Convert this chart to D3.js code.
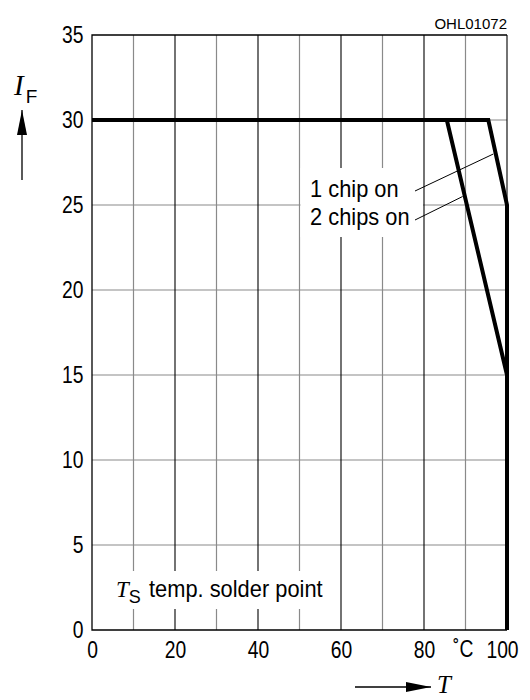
<!DOCTYPE html>
<html>
<head>
<meta charset="utf-8">
<script src="https://cdn.jsdelivr.net/npm/d3@7"></script>
<style>
  body { margin: 0; background: #fff; }
  .tick text, .unit { font-family: "Liberation Sans", Arial, sans-serif; font-size: 23px; fill: #000; }
  .note { font-family: "Liberation Sans", Arial, sans-serif; font-size: 23px; fill: #000; }
  .sym { font-family: "Liberation Serif", "Times New Roman", serif; font-style: italic; fill: #000; }
</style>
</head>
<body>
<div id="chart"></div>
<script>
// data
const tempTicks = [0, 20, 40, 60, 80, 100];
const tempGrid = [10, 20, 30, 40, 50, 60, 70, 80, 90, 100];
const currentTicks = [0, 5, 10, 15, 20, 25, 30, 35];
const oneChipT = [0, 95.5, 100, 100];
const oneChipI = [30, 30, 25, 0];
const twoChipT = [0, 85.5, 100, 100];
const twoChipI = [30, 30, 15, 0];

const width = 530, height = 700;
const narrow = 0.84; // the original labels use a condensed face
const x = d3.scaleLinear().domain([0, 100]).range([92, 507]);
const y = d3.scaleLinear().domain([0, 35]).range([630, 35]);

const svg = d3.select("#chart")
  .append("svg")
  .attr("width", width)
  .attr("height", height);

// grid: horizontal lines grey, verticals black every 20
svg.append("g")
  .selectAll("line")
  .data(currentTicks.filter(d => d > 0 && d < 35))
  .join("line")
    .attr("x1", x(0)).attr("x2", x(100))
    .attr("y1", d => y(d)).attr("y2", d => y(d))
    .attr("stroke", "#8a8a8a")
    .attr("stroke-width", 1.2);

svg.append("g")
  .selectAll("line")
  .data(tempGrid)
  .join("line")
    .attr("x1", d => x(d)).attr("x2", d => x(d))
    .attr("y1", y(0)).attr("y2", y(35))
    .attr("stroke", d => d % 20 === 0 ? "#000" : "#8a8a8a")
    .attr("stroke-width", d => d % 20 === 0 ? 1.1 : 1.2);

// white boxes behind the notes
svg.append("rect")
  .attr("x", x(50) + 1).attr("y", 168)
  .attr("width", x(80) - x(50) - 2).attr("height", 69)
  .attr("fill", "#fff");
svg.append("rect")
  .attr("x", x(0) + 10).attr("y", 571)
  .attr("width", x(60) - x(0) - 12).attr("height", 38)
  .attr("fill", "#fff");

// frame: top, left and bottom
svg.append("path")
  .attr("d", `M${x(100)},${y(35)}H${x(0)}V${y(0)}H${x(100)}`)
  .attr("fill", "none")
  .attr("stroke", "#000")
  .attr("stroke-width", 1.3);

// axes, labels only
svg.append("g")
  .attr("transform", `translate(0,${y(0)})`)
  .call(d3.axisBottom(x).tickValues(tempTicks).tickSize(0).tickPadding(5))
  .call(g => g.select(".domain").remove())
  .call(g => g.selectAll(".tick text")
    .attr("dy", "1em")
    .attr("transform", d => `translate(${d === 100 ? -5 : 0},0) scale(${narrow},1)`));

svg.append("g")
  .attr("transform", `translate(${x(0)},0)`)
  .call(d3.axisLeft(y).tickValues(currentTicks).tickSize(0).tickPadding(9))
  .call(g => g.select(".domain").remove())
  .call(g => g.selectAll(".tick text")
    .attr("transform", `translate(-1,0) scale(${narrow},1)`));

svg.append("text")
  .attr("class", "unit")
  .attr("transform", `translate(453,657) scale(${narrow},1)`)
  .text("˚C");

// derating curves
const line = d3.line().x(d => x(d[0])).y(d => y(d[1]));
const series = [d3.zip(oneChipT, oneChipI), d3.zip(twoChipT, twoChipI)];
svg.append("g")
  .selectAll("path")
  .data(series)
  .join("path")
    .attr("d", line)
    .attr("fill", "none")
    .attr("stroke", "#000")
    .attr("stroke-width", 4)
    .attr("stroke-linejoin", "miter");

// notes with leader lines
svg.append("text").attr("class", "note")
  .attr("transform", "translate(310,197) scale(0.95,1)").text("1 chip on");
svg.append("text").attr("class", "note")
  .attr("transform", "translate(310,225) scale(0.95,1)").text("2 chips on");

svg.append("line")
  .attr("x1", 415).attr("y1", 191)
  .attr("x2", x(96.7)).attr("y2", y(28))
  .attr("stroke", "#000").attr("stroke-width", 1);
svg.append("line")
  .attr("x1", 415).attr("y1", 220)
  .attr("x2", x(89.3)).attr("y2", y(25.5))
  .attr("stroke", "#000").attr("stroke-width", 1);

const ts = svg.append("text").attr("x", 116).attr("y", 597);
ts.append("tspan").attr("class", "sym").style("font-size", "23px").text("T");
ts.append("tspan").attr("class", "note").attr("dy", 6).style("font-size", "18px").text("S");
svg.append("text").attr("class", "note")
  .attr("transform", "translate(149,597) scale(0.95,1)").text("temp. solder point");

// axis titles with arrows
const arrow = svg.append("defs").append("marker")
  .attr("id", "head")
  .attr("viewBox", "0 0 25 10")
  .attr("refX", 25).attr("refY", 5)
  .attr("markerWidth", 25).attr("markerHeight", 10)
  .attr("markerUnits", "userSpaceOnUse")
  .attr("orient", "auto");
arrow.append("path").attr("d", "M0,0L25,5L0,10Z").attr("fill", "#000");

svg.append("line")
  .attr("x1", 22).attr("y1", 180).attr("x2", 22).attr("y2", 110)
  .attr("stroke", "#000").attr("stroke-width", 1.3)
  .attr("marker-end", "url(#head)");
svg.append("line")
  .attr("x1", 355).attr("y1", 687).attr("x2", 431).attr("y2", 687)
  .attr("stroke", "#000").attr("stroke-width", 1.3)
  .attr("marker-end", "url(#head)");

const iF = svg.append("text").attr("x", 14).attr("y", 95);
iF.append("tspan").attr("class", "sym").style("font-size", "29px").text("I");
iF.append("tspan").attr("class", "note").attr("dx", 2).attr("dy", 8).style("font-size", "19px").text("F");

svg.append("text").attr("class", "sym")
  .attr("x", 437).attr("y", 693)
  .style("font-size", "25px")
  .text("T");

svg.append("text").attr("class", "note")
  .attr("x", 507).attr("y", 29)
  .attr("text-anchor", "end")
  .style("font-size", "15px")
  .text("OHL01072");
</script>
</body>
</html>
